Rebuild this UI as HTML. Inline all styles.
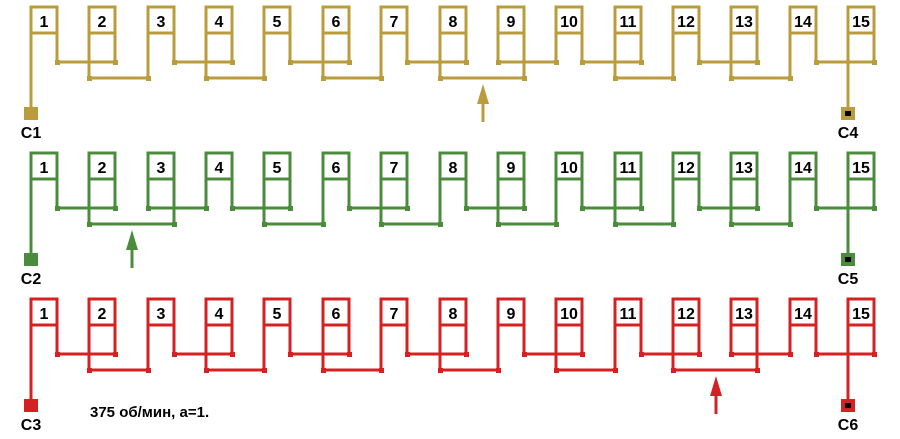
<!DOCTYPE html>
<html><head><meta charset="utf-8"><style>
html,body{margin:0;padding:0;background:#fff;width:900px;height:439px;overflow:hidden}
svg{display:block}
text{font-family:"Liberation Sans",sans-serif;font-weight:bold;font-size:16px;fill:#000}
.w{fill:none;stroke-width:3}
</style></head><body>
<svg width="900" height="439" viewBox="0 0 900 439">
<defs>
<g id="boxes">
<rect x="31" y="7" width="26" height="26"/><rect x="89" y="7" width="26" height="26"/><rect x="148" y="7" width="26" height="26"/><rect x="206" y="7" width="26" height="26"/><rect x="264" y="7" width="26" height="26"/><rect x="323" y="7" width="26" height="26"/><rect x="381" y="7" width="26" height="26"/><rect x="440" y="7" width="26" height="26"/><rect x="498" y="7" width="26" height="26"/><rect x="556" y="7" width="26" height="26"/><rect x="615" y="7" width="26" height="26"/><rect x="673" y="7" width="26" height="26"/><rect x="731" y="7" width="26" height="26"/><rect x="790" y="7" width="26" height="26"/><rect x="848" y="7" width="26" height="26"/>
</g>
</defs>

<!-- ROW 1 gold -->
<g transform="translate(0,0)" stroke="#bb9c3c" fill="#bb9c3c">
<use href="#boxes" fill="#fff" stroke-width="3"/>
<path class="w" d="M31,33V113 M848,33V113
M57,33V62H115V33 M174,33V62H232V33 M290,33V62H349V33 M407,33V62H466V33 M498,33V62H556V33 M582,33V62H641V33 M699,33V62H757V33 M816,33V62H874V33
M89,33V78H148V33 M206,33V78H264V33 M323,33V78H381V33 M440,33V78H524V33 M615,33V78H673V33 M731,33V78H790V33
M483,122V100"/>
<g stroke="none">
<rect x="55" y="60" width="5" height="5"/><rect x="113" y="60" width="5" height="5"/><rect x="172" y="60" width="5" height="5"/><rect x="230" y="60" width="5" height="5"/><rect x="288" y="60" width="5" height="5"/><rect x="347" y="60" width="5" height="5"/><rect x="405" y="60" width="5" height="5"/><rect x="464" y="60" width="5" height="5"/><rect x="496" y="60" width="5" height="5"/><rect x="554" y="60" width="5" height="5"/><rect x="580" y="60" width="5" height="5"/><rect x="639" y="60" width="5" height="5"/><rect x="697" y="60" width="5" height="5"/><rect x="755" y="60" width="5" height="5"/><rect x="814" y="60" width="5" height="5"/><rect x="872" y="60" width="5" height="5"/>
<rect x="87" y="76" width="5" height="5"/><rect x="146" y="76" width="5" height="5"/><rect x="204" y="76" width="5" height="5"/><rect x="262" y="76" width="5" height="5"/><rect x="321" y="76" width="5" height="5"/><rect x="379" y="76" width="5" height="5"/><rect x="438" y="76" width="5" height="5"/><rect x="522" y="76" width="5" height="5"/><rect x="613" y="76" width="5" height="5"/><rect x="671" y="76" width="5" height="5"/><rect x="729" y="76" width="5" height="5"/><rect x="788" y="76" width="5" height="5"/>
<polygon points="477,104 483,84 489,104"/>
<rect x="24" y="107" width="14" height="13"/>
<rect x="841" y="107" width="14" height="13"/>
</g>
<rect x="845" y="111" width="6" height="5" fill="#000" stroke="none"/>
</g>

<!-- ROW 2 green -->
<g transform="translate(0,146)" stroke="#4b8c3c" fill="#4b8c3c">
<use href="#boxes" fill="#fff" stroke-width="3"/>
<path class="w" d="M31,33V113 M848,33V113
M57,33V62H115V33 M148,33V62H206V33 M232,33V62H290V33 M349,33V62H407V33 M466,33V62H524V33 M582,33V62H641V33 M699,33V62H757V33 M816,33V62H874V33
M89,33V78H174V33 M264,33V78H323V33 M381,33V78H440V33 M498,33V78H556V33 M615,33V78H673V33 M731,33V78H790V33
M132,122V100"/>
<g stroke="none">
<rect x="55" y="60" width="5" height="5"/><rect x="113" y="60" width="5" height="5"/><rect x="146" y="60" width="5" height="5"/><rect x="204" y="60" width="5" height="5"/><rect x="230" y="60" width="5" height="5"/><rect x="288" y="60" width="5" height="5"/><rect x="347" y="60" width="5" height="5"/><rect x="405" y="60" width="5" height="5"/><rect x="464" y="60" width="5" height="5"/><rect x="522" y="60" width="5" height="5"/><rect x="580" y="60" width="5" height="5"/><rect x="639" y="60" width="5" height="5"/><rect x="697" y="60" width="5" height="5"/><rect x="755" y="60" width="5" height="5"/><rect x="814" y="60" width="5" height="5"/><rect x="872" y="60" width="5" height="5"/>
<rect x="87" y="76" width="5" height="5"/><rect x="172" y="76" width="5" height="5"/><rect x="262" y="76" width="5" height="5"/><rect x="321" y="76" width="5" height="5"/><rect x="379" y="76" width="5" height="5"/><rect x="438" y="76" width="5" height="5"/><rect x="496" y="76" width="5" height="5"/><rect x="554" y="76" width="5" height="5"/><rect x="613" y="76" width="5" height="5"/><rect x="671" y="76" width="5" height="5"/><rect x="729" y="76" width="5" height="5"/><rect x="788" y="76" width="5" height="5"/>
<polygon points="126,104 132,84 138,104"/>
<rect x="24" y="107" width="14" height="13"/>
<rect x="841" y="107" width="14" height="13"/>
</g>
<rect x="845" y="111" width="6" height="5" fill="#000" stroke="none"/>
</g>

<!-- ROW 3 red -->
<g transform="translate(0,292)" stroke="#d42222" fill="#d42222">
<use href="#boxes" fill="#fff" stroke-width="3"/>
<path class="w" d="M31,33V113 M848,33V113
M57,33V62H115V33 M174,33V62H232V33 M290,33V62H349V33 M407,33V62H466V33 M524,33V62H582V33 M641,33V62H699V33 M731,33V62H790V33 M816,33V62H874V33
M89,33V78H148V33 M206,33V78H264V33 M323,33V78H381V33 M440,33V78H498V33 M556,33V78H615V33 M673,33V78H757V33
M716,122V100"/>
<g stroke="none">
<rect x="55" y="60" width="5" height="5"/><rect x="113" y="60" width="5" height="5"/><rect x="172" y="60" width="5" height="5"/><rect x="230" y="60" width="5" height="5"/><rect x="288" y="60" width="5" height="5"/><rect x="347" y="60" width="5" height="5"/><rect x="405" y="60" width="5" height="5"/><rect x="464" y="60" width="5" height="5"/><rect x="522" y="60" width="5" height="5"/><rect x="580" y="60" width="5" height="5"/><rect x="639" y="60" width="5" height="5"/><rect x="697" y="60" width="5" height="5"/><rect x="729" y="60" width="5" height="5"/><rect x="788" y="60" width="5" height="5"/><rect x="814" y="60" width="5" height="5"/><rect x="872" y="60" width="5" height="5"/>
<rect x="87" y="76" width="5" height="5"/><rect x="146" y="76" width="5" height="5"/><rect x="204" y="76" width="5" height="5"/><rect x="262" y="76" width="5" height="5"/><rect x="321" y="76" width="5" height="5"/><rect x="379" y="76" width="5" height="5"/><rect x="438" y="76" width="5" height="5"/><rect x="496" y="76" width="5" height="5"/><rect x="554" y="76" width="5" height="5"/><rect x="613" y="76" width="5" height="5"/><rect x="671" y="76" width="5" height="5"/><rect x="755" y="76" width="5" height="5"/>
<polygon points="710,104 716,84 722,104"/>
<rect x="24" y="107" width="14" height="13"/>
<rect x="841" y="107" width="14" height="13"/>
</g>
<rect x="845" y="111" width="6" height="5" fill="#000" stroke="none"/>
</g>

<!-- numbers -->
<g text-anchor="middle">
<g transform="translate(0,27)">
<text x="44">1</text><text x="102">2</text><text x="161">3</text><text x="219">4</text><text x="277">5</text><text x="336">6</text><text x="394">7</text><text x="453">8</text><text x="511">9</text><text x="569">10</text><text x="628">11</text><text x="686">12</text><text x="744">13</text><text x="803">14</text><text x="861">15</text>
</g>
<g transform="translate(0,173)">
<text x="44">1</text><text x="102">2</text><text x="161">3</text><text x="219">4</text><text x="277">5</text><text x="336">6</text><text x="394">7</text><text x="453">8</text><text x="511">9</text><text x="569">10</text><text x="628">11</text><text x="686">12</text><text x="744">13</text><text x="803">14</text><text x="861">15</text>
</g>
<g transform="translate(0,319)">
<text x="44">1</text><text x="102">2</text><text x="161">3</text><text x="219">4</text><text x="277">5</text><text x="336">6</text><text x="394">7</text><text x="453">8</text><text x="511">9</text><text x="569">10</text><text x="628">11</text><text x="686">12</text><text x="744">13</text><text x="803">14</text><text x="861">15</text>
</g>
<text x="31" y="138">C1</text><text x="848" y="138">C4</text>
<text x="31" y="284">C2</text><text x="848" y="284">C5</text>
<text x="31" y="430">C3</text><text x="848" y="430">C6</text>
</g>
<text x="90" y="417" style="font-size:15px">375 об/мин, а=1.</text>
</svg>
</body></html>
